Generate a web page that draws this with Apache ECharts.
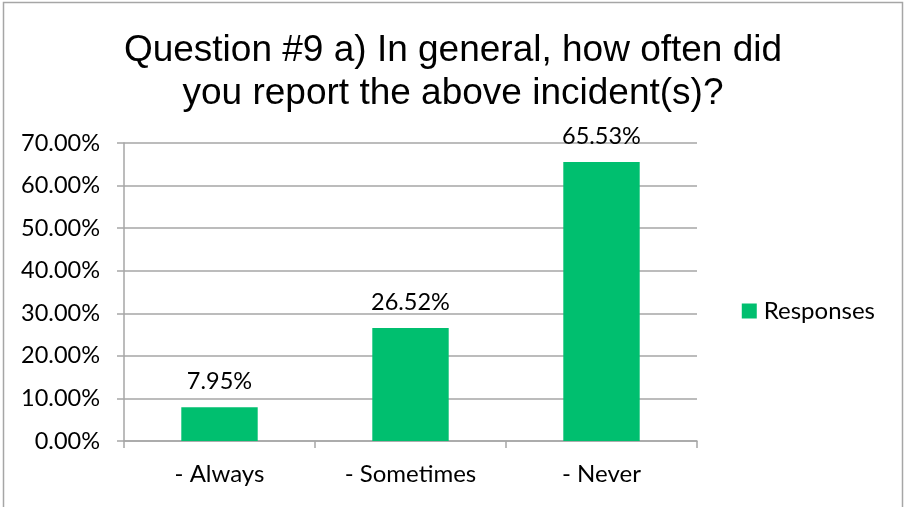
<!DOCTYPE html>
<html>
<head>
<meta charset="utf-8">
<script src="https://cdn.jsdelivr.net/npm/echarts@6/dist/echarts.min.js"></script>
<style>
  html, body { margin: 0; padding: 0; background: #fff; }
  #chart { width: 906px; height: 507px; }
</style>
</head>
<body>
<div id="chart"></div>
<script>
// Survey answers and their share of responses (percent)
const categories = ['- Always', '- Sometimes', '- Never'];
const responses = [7.95, 26.52, 65.53];
const seriesName = 'Responses';
const titleLines = ['Question #9 a) In general, how often did', 'you report the above incident(s)?'];

const labelFont = 'Lato, "Open Sans", sans-serif';
const chart = echarts.init(document.getElementById('chart'), null, { renderer: 'canvas' });

chart.setOption({
  animation: false,
  backgroundColor: '#fff',
  graphic: [{
    type: 'rect',
    shape: { x: 3.5, y: 2.5, width: 899, height: 510 },
    style: { fill: 'none', stroke: '#a6a6a6', lineWidth: 1.5 },
    silent: true
  }],
  title: {
    text: titleLines.join('\n'),
    left: 'center',
    top: 24,
    textStyle: {
      fontFamily: '"Liberation Sans", Arial, sans-serif',
      fontSize: 37,
      fontWeight: 'normal',
      color: '#000',
      lineHeight: 43
    }
  },
  legend: {
    data: [seriesName],
    right: 26,
    top: 294,
    itemWidth: 15,
    itemHeight: 15,
    icon: 'rect',
    itemGap: 6,
    itemStyle: { borderWidth: 0 },
    textStyle: { fontFamily: labelFont, fontSize: 24, color: '#000', padding: [0, 0, 0, 2] }
  },
  grid: { left: 124, right: 209, top: 143, bottom: 66, containLabel: false },
  xAxis: {
    type: 'category',
    data: categories,
    axisLine: { lineStyle: { color: '#a6a6a6', width: 1.5 } },
    axisTick: { show: true, length: 7, alignWithLabel: false, lineStyle: { color: '#a6a6a6', width: 1.5 } },
    axisLabel: { fontFamily: labelFont, fontSize: 24, color: '#000', margin: 21 }
  },
  yAxis: {
    type: 'value',
    min: 0,
    max: 70,
    interval: 10,
    axisLine: { show: true, lineStyle: { color: '#a6a6a6', width: 1.5 } },
    axisTick: { show: true, length: 7, lineStyle: { color: '#a6a6a6', width: 1.5 } },
    splitLine: { lineStyle: { color: '#a6a6a6', width: 1.5 } },
    axisLabel: {
      fontFamily: labelFont, fontSize: 23.5, color: '#000', margin: 24,
      formatter: v => v.toFixed(2) + '%'
    }
  },
  series: [{
    name: seriesName,
    type: 'bar',
    data: responses,
    barWidth: '40%',
    itemStyle: { color: '#00bf6f' },
    label: {
      show: true,
      position: 'top',
      distance: 14,
      fontFamily: labelFont,
      fontSize: 23.5,
      color: '#000',
      formatter: p => p.value.toFixed(2) + '%'
    }
  }]
});
</script>
</body>
</html>
